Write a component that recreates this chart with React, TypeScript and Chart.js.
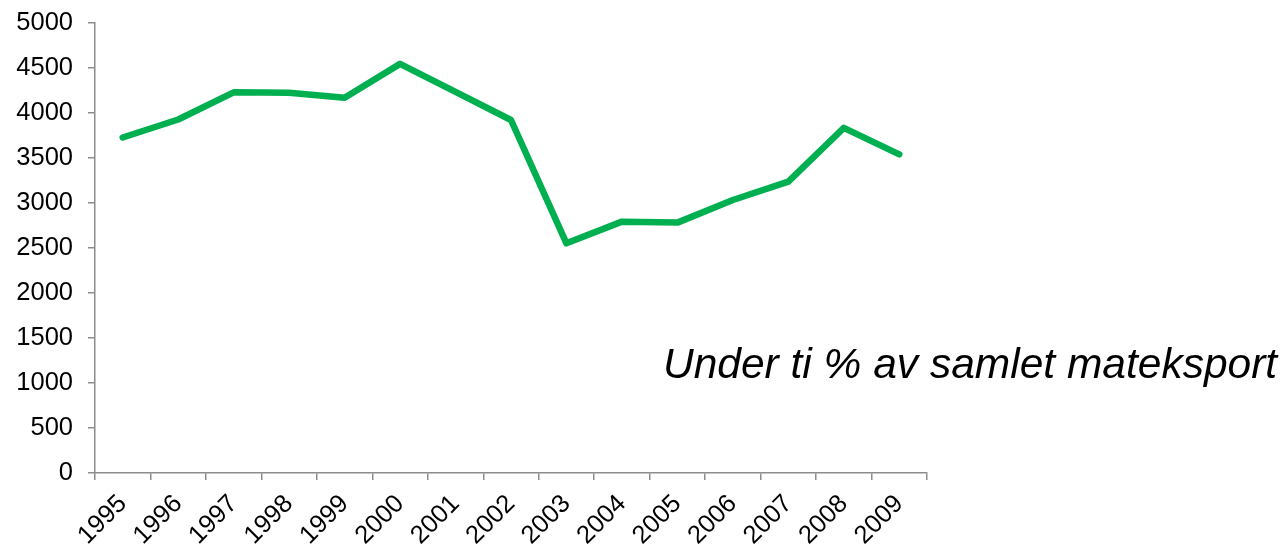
import React, { useEffect, useRef } from "react";
import { Chart, registerables } from "chart.js";

Chart.register(...registerables);

const years = ["1995", "1996", "1997", "1998", "1999", "2000", "2001", "2002", "2003", "2004", "2005", "2006", "2007", "2008", "2009"];
const exportValues = [3728, 3928, 4230, 4226, 4170, 4546, 4235, 3922, 2552, 2793, 2782, 3033, 3237, 3835, 3540];
const yTicks = [0, 500, 1000, 1500, 2000, 2500, 3000, 3500, 4000, 4500, 5000];
const annotation = "Under ti % av samlet mateksport";

export default function App() {
  const canvasRef = useRef<HTMLCanvasElement | null>(null);

  useEffect(() => {
    document.body.style.margin = "0";
    const canvas = canvasRef.current;
    if (!canvas) return;
    const axisColor = "#8c8c8c";
    const font = { family: "'Liberation Sans', Arial, sans-serif", size: 25.5 };
    const chart = new Chart(canvas, {
      type: "line",
      data: {
        labels: years,
        datasets: [
          {
            data: exportValues,
            borderColor: "#00B050",
            backgroundColor: "#00B050",
            borderWidth: 6.5,
            pointRadius: 0,
            borderCapStyle: "round",
            borderJoinStyle: "round",
            tension: 0,
            fill: false,
          },
        ],
      },
      options: {
        responsive: false,
        animation: false,
        devicePixelRatio: 1,
        layout: { padding: { top: 23, right: 361, bottom: 0, left: 0 } },
        plugins: { legend: { display: false }, tooltip: { enabled: false } },
        scales: {
          x: {
            type: "category",
            offset: true,
            grid: { offset: true, drawOnChartArea: false, drawTicks: true, tickLength: 7, color: axisColor, lineWidth: 1.5 },
            border: { display: true, color: axisColor, width: 1.5 },
            ticks: { color: "#000", font, maxRotation: 45, minRotation: 45, padding: 9, autoSkip: false },
            afterFit: (s: any) => { s.height = 74; s.paddingLeft = 0; s.paddingRight = 0; },
          },
          y: {
            min: 0,
            max: 5000,
            afterBuildTicks: (s: any) => { s.ticks = yTicks.map((v) => ({ value: v })); },
            grid: { drawOnChartArea: false, drawTicks: true, tickLength: 7, color: axisColor, lineWidth: 1.5 },
            border: { display: true, color: axisColor, width: 1.5 },
            ticks: { color: "#000", font, padding: 15, callback: (v: any) => String(v) },
            afterFit: (s: any) => { s.width = 95; s.paddingTop = 0; s.paddingBottom = 0; },
          },
        },
      },
    });
    return () => chart.destroy();
  }, []);

  return (
    <div style={{ position: "absolute", left: 0, top: 0, width: 1288, height: 547, background: "#fff" }}>
      <canvas ref={canvasRef} width={1288} height={547} style={{ display: "block" }} />
      <span
        style={{
          position: "absolute",
          left: 663,
          top: 337,
          fontFamily: "'Liberation Sans', Arial, sans-serif",
          fontStyle: "italic",
          fontSize: 42.5,
          lineHeight: "54px",
          color: "#000",
          whiteSpace: "nowrap",
        }}
      >
        {annotation}
      </span>
    </div>
  );
}
